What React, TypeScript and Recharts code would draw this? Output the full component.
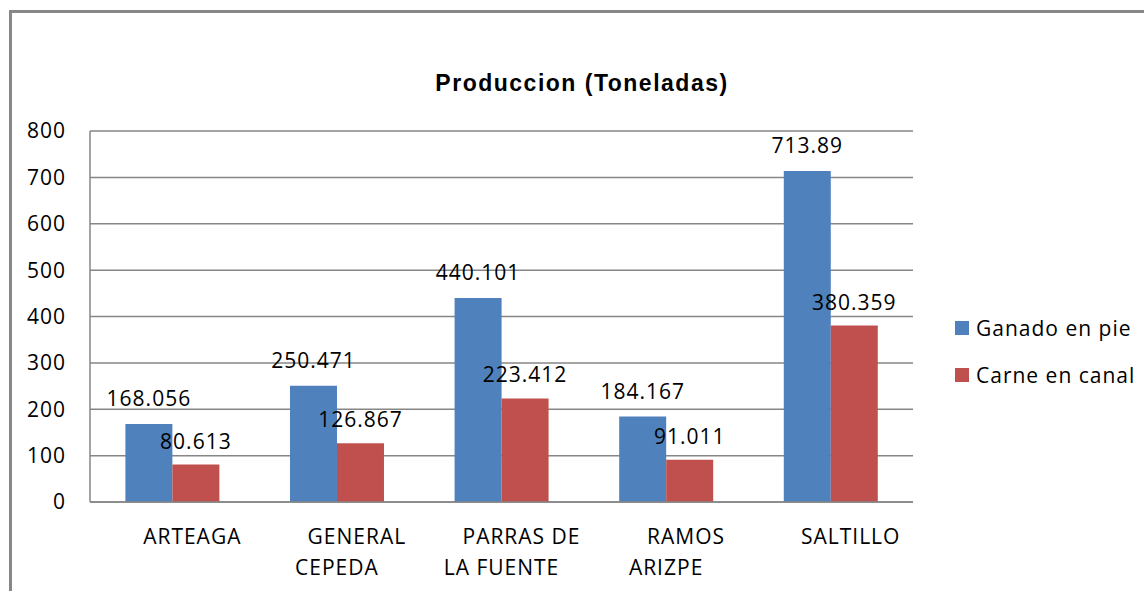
import { Bar, BarChart, CartesianGrid, LabelList, Legend, XAxis, YAxis } from "recharts";

const categories = ["ARTEAGA", "GENERAL CEPEDA", "PARRAS DE LA FUENTE", "RAMOS ARIZPE", "SALTILLO"];
const categoryLines = [["ARTEAGA"], ["GENERAL", "CEPEDA"], ["PARRAS DE", "LA FUENTE"], ["RAMOS", "ARIZPE"], ["SALTILLO"]];
const ganadoEnPie = [168.056, 250.471, 440.101, 184.167, 713.89];
const carneEnCanal = [80.613, 126.867, 223.412, 91.011, 380.359];
const yTicks = [0, 100, 200, 300, 400, 500, 600, 700, 800];

const series = [
  { key: "ganado", name: "Ganado en pie", color: "#4F81BD", labelOffset: 18 },
  { key: "carne", name: "Carne en canal", color: "#C0504D", labelOffset: 16 },
];

const data = categories.map((name, i) => ({
  name,
  ganado: ganadoEnPie[i],
  carne: carneEnCanal[i],
}));

const FONT = "'Open Sans', 'Liberation Sans', sans-serif";
const GRID = "#868686";

function CategoryTick({ x, y, payload }: { x?: number; y?: number; payload?: { value: string } }) {
  const idx = categories.indexOf(payload?.value ?? "");
  const lines = categoryLines[idx] ?? [payload?.value ?? ""];
  return (
    <g>
      {lines.map((line, i) => (
        <text
          key={line}
          x={(x ?? 0) + (i === 0 ? 20 : 0)}
          y={(y ?? 0) + 34 + i * 31}
          textAnchor="middle"
          fill="#000"
          fontSize={21}
          fontFamily={FONT}
          letterSpacing={1}
        >
          {line}
        </text>
      ))}
    </g>
  );
}

function SideLegend() {
  return (
    <div style={{ fontFamily: FONT, fontSize: 21, letterSpacing: 1, color: "#000" }}>
      {series.map((s) => (
        <div key={s.key} style={{ display: "flex", alignItems: "center", height: 47 }}>
          <span style={{ width: 14, height: 14, background: s.color, marginRight: 7 }} />
          <span>{s.name}</span>
        </div>
      ))}
    </div>
  );
}

export default function App() {
  return (
    <div style={{ position: "absolute", left: 0, top: 0, width: 1144, height: 591, background: "#fff", overflow: "hidden" }}>
      <div
        style={{
          position: "absolute",
          left: 9,
          top: 10,
          width: 1200,
          height: 700,
          border: "3px solid #878787",
        }}
      />
      <div
        style={{
          position: "absolute",
          left: 0,
          width: 1164,
          top: 70,
          textAlign: "center",
          fontFamily: "'Liberation Sans', Arial, sans-serif",
          fontWeight: "bold",
          fontSize: 23,
          letterSpacing: 1.5,
          color: "#000",
        }}
      >
        Produccion (Toneladas)
      </div>
      <div style={{ position: "absolute", left: 0, top: 0 }}>
        <BarChart
          width={1144}
          height={591}
          data={data}
          margin={{ top: 131, right: 231, bottom: 9, left: 30 }}
          barCategoryGap="21.5%"
          barGap={0}
        >
          <CartesianGrid vertical={false} stroke={GRID} strokeWidth={1.5} />
          <XAxis
            dataKey="name"
            height={80}
            axisLine={{ stroke: GRID, strokeWidth: 1.5 }}
            tickLine={false}
            tick={<CategoryTick />}
            interval={0}
          />
          <YAxis
            width={60}
            domain={[0, 800]}
            ticks={yTicks}
            axisLine={{ stroke: GRID, strokeWidth: 1.5 }}
            tickLine={false}
            tickMargin={18}
            tick={{ fill: "#000", fontSize: 21, fontFamily: FONT, letterSpacing: 1 }}
          />
          <Legend
            layout="vertical"
            align="center"
            verticalAlign="middle"
            content={<SideLegend />}
            wrapperStyle={{ left: 955, top: 304, width: 189 }}
          />
          {series.map((s) => (
            <Bar key={s.key} dataKey={s.key} name={s.name} fill={s.color} isAnimationActive={false}>
              <LabelList
                dataKey={s.key}
                position="top"
                offset={s.labelOffset}
                fill="#000"
                fontSize={21}
                fontFamily={FONT}
                letterSpacing={1}
              />
            </Bar>
          ))}
        </BarChart>
      </div>
    </div>
  );
}
